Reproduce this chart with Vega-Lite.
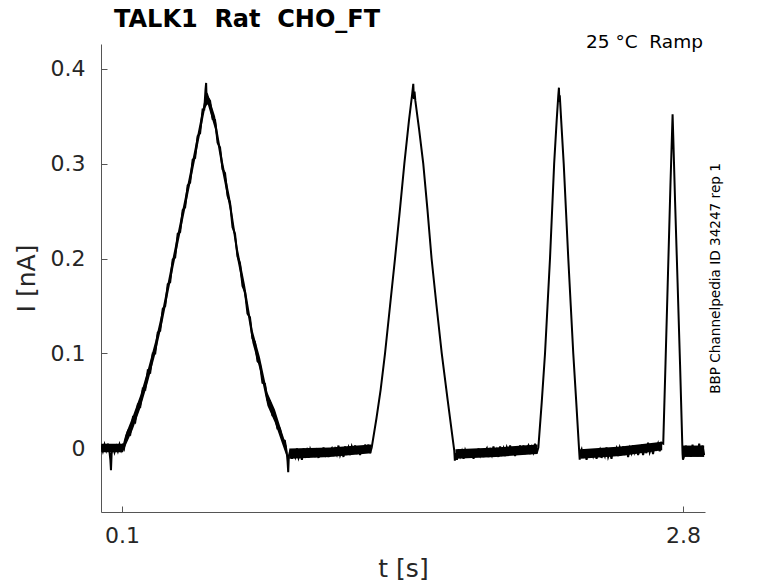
{
  "$schema": "https://vega.github.io/schema/vega-lite/v6.json",
  "width": 604,
  "height": 468,
  "autosize": {"type": "none"},
  "padding": {"left": 101, "top": 44, "right": 73, "bottom": 71},
  "background": "white",
  "title": {
    "text": "TALK1\u00a0\u00a0Rat\u00a0\u00a0CHO_FT",
    "anchor": "start",
    "frame": "group",
    "font": "DejaVu Sans",
    "fontSize": 24,
    "fontWeight": "bold",
    "color": "black",
    "baseline": "alphabetic",
    "offset": 17,
    "dx": 13,
    "dy": 35
  },
  "datasets": {
    "trace": [
      {"t": 0.000, "i": 0.003}, {"t": 0.008, "i": -0.003}, {"t": 0.016, "i": 0.004}, {"t": 0.024, "i": -0.002},
      {"t": 0.032, "i": 0.005}, {"t": 0.040, "i": -0.004}, {"t": 0.044, "i": -0.012}, {"t": 0.047, "i": -0.023},
      {"t": 0.050, "i": -0.006}, {"t": 0.056, "i": 0.003}, {"t": 0.064, "i": -0.004}, {"t": 0.072, "i": 0.002},
      {"t": 0.080, "i": -0.003}, {"t": 0.088, "i": 0.004}, {"t": 0.096, "i": -0.002}, {"t": 0.104, "i": 0.003},
      {"t": 0.110, "i": 0.000}, {"t": 0.116, "i": 0.008},
      {"t": 0.128, "i": 0.018}, {"t": 0.140, "i": 0.015}, {"t": 0.152, "i": 0.032}, {"t": 0.164, "i": 0.028},
      {"t": 0.176, "i": 0.046}, {"t": 0.188, "i": 0.044}, {"t": 0.200, "i": 0.063}, {"t": 0.212, "i": 0.062},
      {"t": 0.224, "i": 0.082}, {"t": 0.236, "i": 0.080}, {"t": 0.248, "i": 0.100}, {"t": 0.260, "i": 0.100},
      {"t": 0.272, "i": 0.122}, {"t": 0.284, "i": 0.124}, {"t": 0.296, "i": 0.147}, {"t": 0.308, "i": 0.150},
      {"t": 0.320, "i": 0.173}, {"t": 0.332, "i": 0.175}, {"t": 0.344, "i": 0.199}, {"t": 0.356, "i": 0.201},
      {"t": 0.368, "i": 0.226}, {"t": 0.380, "i": 0.228}, {"t": 0.392, "i": 0.251}, {"t": 0.404, "i": 0.254},
      {"t": 0.416, "i": 0.277}, {"t": 0.428, "i": 0.280}, {"t": 0.440, "i": 0.304}, {"t": 0.452, "i": 0.306},
      {"t": 0.464, "i": 0.329}, {"t": 0.476, "i": 0.332}, {"t": 0.488, "i": 0.357}, {"t": 0.496, "i": 0.357},
      {"t": 0.502, "i": 0.378}, {"t": 0.505, "i": 0.385}, {"t": 0.508, "i": 0.362},
      {"t": 0.512, "i": 0.370}, {"t": 0.524, "i": 0.366}, {"t": 0.536, "i": 0.347}, {"t": 0.548, "i": 0.346},
      {"t": 0.560, "i": 0.322}, {"t": 0.572, "i": 0.317}, {"t": 0.584, "i": 0.294}, {"t": 0.596, "i": 0.290},
      {"t": 0.608, "i": 0.266}, {"t": 0.620, "i": 0.259}, {"t": 0.632, "i": 0.233}, {"t": 0.644, "i": 0.226},
      {"t": 0.656, "i": 0.202}, {"t": 0.668, "i": 0.195}, {"t": 0.680, "i": 0.171}, {"t": 0.692, "i": 0.165},
      {"t": 0.704, "i": 0.142}, {"t": 0.716, "i": 0.138}, {"t": 0.728, "i": 0.116}, {"t": 0.740, "i": 0.112},
      {"t": 0.752, "i": 0.092}, {"t": 0.764, "i": 0.089}, {"t": 0.776, "i": 0.069}, {"t": 0.788, "i": 0.068},
      {"t": 0.800, "i": 0.051}, {"t": 0.812, "i": 0.050}, {"t": 0.824, "i": 0.035}, {"t": 0.836, "i": 0.035},
      {"t": 0.848, "i": 0.021}, {"t": 0.860, "i": 0.021}, {"t": 0.872, "i": 0.009}, {"t": 0.884, "i": 0.008},
      {"t": 0.893, "i": -0.004}, {"t": 0.897, "i": -0.014}, {"t": 0.900, "i": -0.025}, {"t": 0.903, "i": -0.008},
      {"t": 0.910, "i": -0.002}, {"t": 0.918, "i": -0.011}, {"t": 0.926, "i": -0.004}, {"t": 0.934, "i": -0.009},
      {"t": 0.942, "i": 0.000}, {"t": 0.950, "i": -0.010}, {"t": 0.958, "i": -0.005}, {"t": 0.966, "i": -0.012},
      {"t": 0.974, "i": 0.000}, {"t": 0.982, "i": -0.007}, {"t": 0.990, "i": -0.002}, {"t": 0.998, "i": -0.010},
      {"t": 1.006, "i": -0.001}, {"t": 1.014, "i": -0.006}, {"t": 1.022, "i": 0.000}, {"t": 1.030, "i": -0.009},
      {"t": 1.038, "i": -0.003}, {"t": 1.046, "i": -0.010}, {"t": 1.054, "i": -0.001}, {"t": 1.062, "i": -0.007},
      {"t": 1.070, "i": 0.001}, {"t": 1.078, "i": -0.006}, {"t": 1.086, "i": 0.000}, {"t": 1.094, "i": -0.009},
      {"t": 1.102, "i": -0.003}, {"t": 1.110, "i": 0.000}, {"t": 1.118, "i": -0.008}, {"t": 1.126, "i": -0.001},
      {"t": 1.134, "i": -0.006}, {"t": 1.142, "i": 0.003}, {"t": 1.150, "i": -0.007}, {"t": 1.158, "i": -0.002},
      {"t": 1.166, "i": -0.009}, {"t": 1.174, "i": 0.002}, {"t": 1.182, "i": -0.004}, {"t": 1.190, "i": 0.001},
      {"t": 1.198, "i": -0.007}, {"t": 1.206, "i": 0.002}, {"t": 1.214, "i": -0.003}, {"t": 1.222, "i": 0.003},
      {"t": 1.230, "i": -0.006}, {"t": 1.238, "i": 0.001}, {"t": 1.246, "i": -0.007}, {"t": 1.254, "i": 0.002},
      {"t": 1.262, "i": -0.004}, {"t": 1.270, "i": 0.004}, {"t": 1.278, "i": -0.003}, {"t": 1.286, "i": 0.004},
      {"t": 1.294, "i": -0.005}, {"t": 1.302, "i": 0.001},
      {"t": 1.325, "i": 0.032}, {"t": 1.345, "i": 0.062}, {"t": 1.366, "i": 0.100}, {"t": 1.390, "i": 0.150},
      {"t": 1.414, "i": 0.200}, {"t": 1.437, "i": 0.250}, {"t": 1.459, "i": 0.300}, {"t": 1.481, "i": 0.345},
      {"t": 1.496, "i": 0.372}, {"t": 1.502, "i": 0.384}, {"t": 1.505, "i": 0.368}, {"t": 1.508, "i": 0.376},
      {"t": 1.512, "i": 0.366}, {"t": 1.530, "i": 0.336}, {"t": 1.550, "i": 0.300}, {"t": 1.570, "i": 0.252},
      {"t": 1.590, "i": 0.200}, {"t": 1.614, "i": 0.150}, {"t": 1.639, "i": 0.100}, {"t": 1.668, "i": 0.050},
      {"t": 1.699, "i": -0.002}, {"t": 1.702, "i": -0.013}, {"t": 1.705, "i": -0.005},
      {"t": 1.712, "i": -0.012}, {"t": 1.720, "i": -0.001}, {"t": 1.728, "i": -0.008}, {"t": 1.736, "i": -0.003},
      {"t": 1.744, "i": -0.011}, {"t": 1.752, "i": -0.002}, {"t": 1.760, "i": -0.007}, {"t": 1.768, "i": -0.001},
      {"t": 1.776, "i": -0.009}, {"t": 1.784, "i": -0.003}, {"t": 1.792, "i": -0.011}, {"t": 1.800, "i": -0.002},
      {"t": 1.808, "i": -0.008}, {"t": 1.816, "i": 0.000}, {"t": 1.824, "i": -0.007}, {"t": 1.832, "i": -0.001},
      {"t": 1.840, "i": -0.009}, {"t": 1.848, "i": -0.003}, {"t": 1.856, "i": 0.000}, {"t": 1.864, "i": -0.009},
      {"t": 1.872, "i": -0.002}, {"t": 1.880, "i": -0.007}, {"t": 1.888, "i": 0.002}, {"t": 1.896, "i": -0.008},
      {"t": 1.904, "i": -0.002}, {"t": 1.912, "i": -0.009}, {"t": 1.920, "i": 0.002}, {"t": 1.928, "i": -0.005},
      {"t": 1.936, "i": 0.000}, {"t": 1.944, "i": -0.008}, {"t": 1.952, "i": 0.001}, {"t": 1.960, "i": -0.004},
      {"t": 1.968, "i": 0.003}, {"t": 1.976, "i": -0.006}, {"t": 1.984, "i": 0.000}, {"t": 1.992, "i": -0.008},
      {"t": 2.000, "i": 0.001}, {"t": 2.008, "i": -0.005}, {"t": 2.016, "i": 0.003}, {"t": 2.024, "i": -0.004},
      {"t": 2.032, "i": 0.003}, {"t": 2.040, "i": -0.006}, {"t": 2.048, "i": 0.000}, {"t": 2.056, "i": 0.003},
      {"t": 2.064, "i": -0.006}, {"t": 2.072, "i": 0.001}, {"t": 2.080, "i": -0.004}, {"t": 2.088, "i": 0.005},
      {"t": 2.096, "i": -0.005}, {"t": 2.104, "i": 0.001},
      {"t": 2.120, "i": 0.048}, {"t": 2.136, "i": 0.100}, {"t": 2.148, "i": 0.150}, {"t": 2.160, "i": 0.200},
      {"t": 2.170, "i": 0.250}, {"t": 2.180, "i": 0.300}, {"t": 2.192, "i": 0.345}, {"t": 2.200, "i": 0.372},
      {"t": 2.203, "i": 0.380}, {"t": 2.205, "i": 0.365}, {"t": 2.207, "i": 0.372},
      {"t": 2.214, "i": 0.345}, {"t": 2.226, "i": 0.300}, {"t": 2.237, "i": 0.250}, {"t": 2.248, "i": 0.200},
      {"t": 2.260, "i": 0.150}, {"t": 2.272, "i": 0.100}, {"t": 2.286, "i": 0.050}, {"t": 2.301, "i": -0.005},
      {"t": 2.303, "i": -0.012}, {"t": 2.306, "i": -0.004},
      {"t": 2.312, "i": -0.001}, {"t": 2.320, "i": -0.010}, {"t": 2.328, "i": -0.004}, {"t": 2.336, "i": -0.012},
      {"t": 2.344, "i": -0.003}, {"t": 2.352, "i": -0.009}, {"t": 2.360, "i": -0.001}, {"t": 2.368, "i": -0.008},
      {"t": 2.376, "i": -0.002}, {"t": 2.384, "i": -0.011}, {"t": 2.392, "i": -0.004}, {"t": 2.400, "i": -0.001},
      {"t": 2.408, "i": -0.010}, {"t": 2.416, "i": -0.003}, {"t": 2.424, "i": -0.008}, {"t": 2.432, "i": 0.001},
      {"t": 2.440, "i": -0.009}, {"t": 2.448, "i": -0.004}, {"t": 2.456, "i": -0.011}, {"t": 2.464, "i": 0.000},
      {"t": 2.472, "i": -0.005}, {"t": 2.480, "i": 0.000}, {"t": 2.488, "i": -0.008}, {"t": 2.496, "i": 0.001},
      {"t": 2.504, "i": -0.004}, {"t": 2.512, "i": 0.002}, {"t": 2.520, "i": -0.007}, {"t": 2.528, "i": -0.001},
      {"t": 2.536, "i": -0.009}, {"t": 2.544, "i": 0.000}, {"t": 2.552, "i": -0.005}, {"t": 2.560, "i": 0.003},
      {"t": 2.568, "i": -0.004}, {"t": 2.576, "i": 0.002}, {"t": 2.584, "i": -0.007}, {"t": 2.592, "i": -0.001},
      {"t": 2.600, "i": 0.002}, {"t": 2.608, "i": -0.007}, {"t": 2.616, "i": 0.000}, {"t": 2.624, "i": -0.005},
      {"t": 2.632, "i": 0.006}, {"t": 2.640, "i": -0.004}, {"t": 2.648, "i": 0.001}, {"t": 2.656, "i": -0.006},
      {"t": 2.664, "i": 0.005}, {"t": 2.672, "i": 0.000}, {"t": 2.680, "i": 0.005}, {"t": 2.688, "i": -0.003},
      {"t": 2.696, "i": 0.006}, {"t": 2.705, "i": 0.005},
      {"t": 2.716, "i": 0.090}, {"t": 2.728, "i": 0.185}, {"t": 2.740, "i": 0.280}, {"t": 2.747, "i": 0.330},
      {"t": 2.750, "i": 0.352}, {"t": 2.753, "i": 0.330}, {"t": 2.762, "i": 0.260}, {"t": 2.774, "i": 0.175},
      {"t": 2.786, "i": 0.088}, {"t": 2.798, "i": -0.006}, {"t": 2.800, "i": -0.012},
      {"t": 2.806, "i": -0.008}, {"t": 2.814, "i": 0.003}, {"t": 2.822, "i": -0.007}, {"t": 2.830, "i": 0.002},
      {"t": 2.838, "i": -0.009}, {"t": 2.846, "i": 0.004}, {"t": 2.854, "i": -0.006}, {"t": 2.862, "i": 0.001},
      {"t": 2.870, "i": -0.008}, {"t": 2.878, "i": 0.005}, {"t": 2.886, "i": -0.005}, {"t": 2.894, "i": 0.003},
      {"t": 2.902, "i": -0.007}
    ],
    "band": [
      {"seg": "a", "t": 0.000, "lo": -0.004, "hi": 0.005}, {"seg": "a", "t": 0.105, "lo": -0.004, "hi": 0.005},
      {"seg": "a", "t": 0.116, "lo": 0.002, "hi": 0.014}, {"seg": "a", "t": 0.152, "lo": 0.020, "hi": 0.034},
      {"seg": "a", "t": 0.188, "lo": 0.042, "hi": 0.056}, {"seg": "a", "t": 0.224, "lo": 0.069, "hi": 0.083},
      {"seg": "a", "t": 0.260, "lo": 0.099, "hi": 0.113}, {"seg": "a", "t": 0.296, "lo": 0.134, "hi": 0.148},
      {"seg": "a", "t": 0.332, "lo": 0.174, "hi": 0.188}, {"seg": "a", "t": 0.368, "lo": 0.213, "hi": 0.227},
      {"seg": "a", "t": 0.404, "lo": 0.252, "hi": 0.266}, {"seg": "a", "t": 0.440, "lo": 0.291, "hi": 0.305},
      {"seg": "a", "t": 0.476, "lo": 0.331, "hi": 0.345}, {"seg": "a", "t": 0.500, "lo": 0.358, "hi": 0.370},
      {"seg": "a", "t": 0.512, "lo": 0.363, "hi": 0.375}, {"seg": "a", "t": 0.548, "lo": 0.336, "hi": 0.350},
      {"seg": "a", "t": 0.584, "lo": 0.290, "hi": 0.304}, {"seg": "a", "t": 0.620, "lo": 0.250, "hi": 0.264},
      {"seg": "a", "t": 0.656, "lo": 0.198, "hi": 0.212}, {"seg": "a", "t": 0.692, "lo": 0.158, "hi": 0.172},
      {"seg": "a", "t": 0.728, "lo": 0.111, "hi": 0.125}, {"seg": "a", "t": 0.764, "lo": 0.082, "hi": 0.096},
      {"seg": "a", "t": 0.800, "lo": 0.045, "hi": 0.059}, {"seg": "a", "t": 0.836, "lo": 0.027, "hi": 0.041},
      {"seg": "a", "t": 0.872, "lo": 0.004, "hi": 0.016}, {"seg": "a", "t": 0.893, "lo": -0.009, "hi": 0.002},
      {"seg": "b", "t": 0.905, "lo": -0.011, "hi": 0.000}, {"seg": "b", "t": 1.100, "lo": -0.009, "hi": 0.001},
      {"seg": "b", "t": 1.300, "lo": -0.005, "hi": 0.004},
      {"seg": "c", "t": 1.705, "lo": -0.011, "hi": -0.001}, {"seg": "c", "t": 1.900, "lo": -0.009, "hi": 0.001},
      {"seg": "c", "t": 2.100, "lo": -0.006, "hi": 0.004},
      {"seg": "d", "t": 2.306, "lo": -0.011, "hi": -0.001}, {"seg": "d", "t": 2.500, "lo": -0.008, "hi": 0.002},
      {"seg": "d", "t": 2.700, "lo": -0.002, "hi": 0.007},
      {"seg": "e", "t": 2.800, "lo": -0.009, "hi": 0.003}, {"seg": "e", "t": 2.902, "lo": -0.009, "hi": 0.003}
    ]
  },
  "layer": [
    {
      "data": {"name": "band"},
      "mark": {"type": "area", "color": "black", "opacity": 1, "clip": true},
      "encoding": {
        "x": {
          "field": "t", "type": "quantitative",
          "scale": {"domain": [-0.001, 2.906], "nice": false, "zero": false},
          "axis": {"values": [0.1, 2.8], "format": ".1f", "title": "t [s]", "titlePadding": 10}
        },
        "y": {
          "field": "lo", "type": "quantitative",
          "scale": {"domain": [-0.067, 0.426], "nice": false, "zero": false},
          "axis": {"values": [0, 0.1, 0.2, 0.3, 0.4], "format": "~g", "title": "I [nA]", "titlePadding": 11}
        },
        "y2": {"field": "hi"},
        "detail": {"field": "seg"}
      }
    },
    {
      "data": {"name": "trace"},
      "mark": {"type": "line", "color": "black", "strokeWidth": 2, "clip": true},
      "encoding": {
        "x": {"field": "t", "type": "quantitative"},
        "y": {"field": "i", "type": "quantitative"},
        "order": {"field": "t", "type": "quantitative"}
      }
    },
    {
      "data": {"values": [{}]},
      "mark": {"type": "text", "text": "25 °C\u00a0\u00a0Ramp", "align": "right", "baseline": "alphabetic", "font": "DejaVu Sans", "fontSize": 18.5, "color": "black"},
      "encoding": {
        "x": {"datum": 2.896, "type": "quantitative"},
        "y": {"datum": 0.4221, "type": "quantitative"}
      }
    },
    {
      "data": {"values": [{}]},
      "mark": {"type": "text", "text": "BBP Channelpedia ID 34247 rep 1", "angle": 270, "align": "center", "baseline": "middle", "font": "DejaVu Sans", "fontSize": 13.6, "color": "black"},
      "encoding": {
        "x": {"datum": 2.961, "type": "quantitative"},
        "y": {"datum": 0.179, "type": "quantitative"}
      }
    }
  ],
  "config": {
    "view": {"stroke": null},
    "axis": {
      "grid": false,
      "domainColor": "#555555",
      "domainWidth": 1,
      "tickColor": "#555555",
      "tickSize": -6,
      "labelFont": "DejaVu Sans",
      "labelFontSize": 22,
      "labelColor": "#262626",
      "labelPadding": 19,
      "titleFont": "DejaVu Sans",
      "titleFontSize": 25,
      "titleFontWeight": "normal",
      "titleColor": "#262626"
    },
    "axisY": {"labelPadding": 22}
  }
}
